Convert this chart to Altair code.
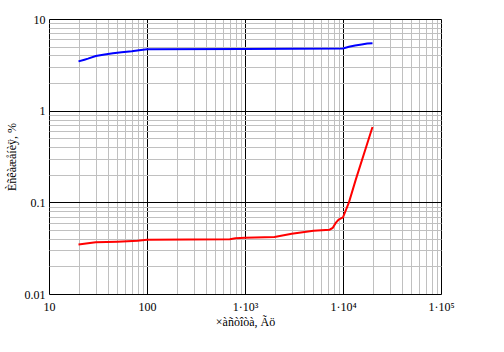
import altair as alt
import pandas as pd

# Blue series (upper curve)
blue_freq = [20, 23, 25, 30, 37, 45, 55, 70, 83, 100, 1000, 10000, 11500, 13300, 15500, 17700, 20000]
blue_val = [3.45, 3.6, 3.7, 3.95, 4.1, 4.22, 4.33, 4.44, 4.55, 4.67, 4.72, 4.76, 4.99, 5.15, 5.28, 5.4, 5.45]

# Red series (lower curve)
red_freq = [20, 25, 30, 50, 80, 100, 700, 800, 1000, 2000, 3000, 5000, 7300, 7840, 8430, 9040, 10000, 11500, 13500, 20000]
red_val = [0.0346, 0.0357, 0.0366, 0.0372, 0.038, 0.039, 0.0395, 0.0405, 0.041, 0.0418, 0.0455, 0.049, 0.0503, 0.0526, 0.0596, 0.0647, 0.0686, 0.1, 0.177, 0.664]

x_ticks = [m * 10 ** e for e in range(1, 5) for m in range(1, 10)] + [100000]
y_ticks = [round(m * 10 ** e, 4) for e in range(-2, 1) for m in range(1, 10)] + [10]

x_title = "×àñòîòà, Ãö"
y_title = "Èñêàæåíèÿ, %"

df = pd.concat([
    pd.DataFrame({"f": blue_freq, "v": blue_val, "s": "blue"}),
    pd.DataFrame({"f": red_freq, "v": red_val, "s": "red"}),
])

major_test = "abs(log(datum.value)/log(10) - round(log(datum.value)/log(10))) < 0.001"

x_label_expr = (
    "datum.value == 10 ? '10' : datum.value == 100 ? '100' : "
    "datum.value == 1000 ? '1·10³' : datum.value == 10000 ? '1·10⁴' : "
    "datum.value == 100000 ? '1·10⁵' : ''"
)
y_label_expr = (
    "datum.value == 0.01 ? '0.01' : datum.value == 0.1 ? '0.1' : "
    "datum.value == 1 ? '1' : datum.value == 10 ? '10' : ''"
)

font = "Liberation Serif"

chart = alt.Chart(df).mark_line(strokeWidth=2, clip=True).encode(
    x=alt.X("f:Q",
            scale=alt.Scale(type="log", domain=[10, 100000], nice=False),
            axis=alt.Axis(values=x_ticks, labelExpr=x_label_expr, title=x_title,
                          ticks=False, domain=False, grid=True,
                          gridColor={"condition": {"test": major_test, "value": "black"}, "value": "#c0c0c0"},
                          gridWidth=1, gridOpacity=1,
                          labelFont=font, labelFontSize=12, labelColor="black",
                          labelPadding=7, labelFlush=False, labelOverlap=False,
                          titleFont=font, titleFontSize=12, titleFontWeight="normal",
                          titleColor="black", titlePadding=4)),
    y=alt.Y("v:Q",
            scale=alt.Scale(type="log", domain=[0.01, 10], nice=False),
            axis=alt.Axis(values=y_ticks, labelExpr=y_label_expr, title=y_title,
                          ticks=False, domain=False, grid=True,
                          gridColor={"condition": {"test": major_test, "value": "black"}, "value": "#c0c0c0"},
                          gridWidth=1, gridOpacity=1,
                          labelFont=font, labelFontSize=12, labelColor="black",
                          labelPadding=4, labelFlush=False, labelOverlap=False,
                          titleFont=font, titleFontSize=12, titleFontWeight="normal",
                          titleColor="black", titlePadding=6)),
    color=alt.Color("s:N", scale=alt.Scale(domain=["blue", "red"], range=["#0000ff", "#ff0000"]), legend=None),
).properties(
    width=392, height=275,
    padding={"left": 49, "top": 19, "right": 63, "bottom": 58},
    autosize="none",
).configure_view(stroke="black", strokeWidth=1).configure(background="white")

chart.save("out.html", embed_options={"renderer": "svg", "actions": False})
